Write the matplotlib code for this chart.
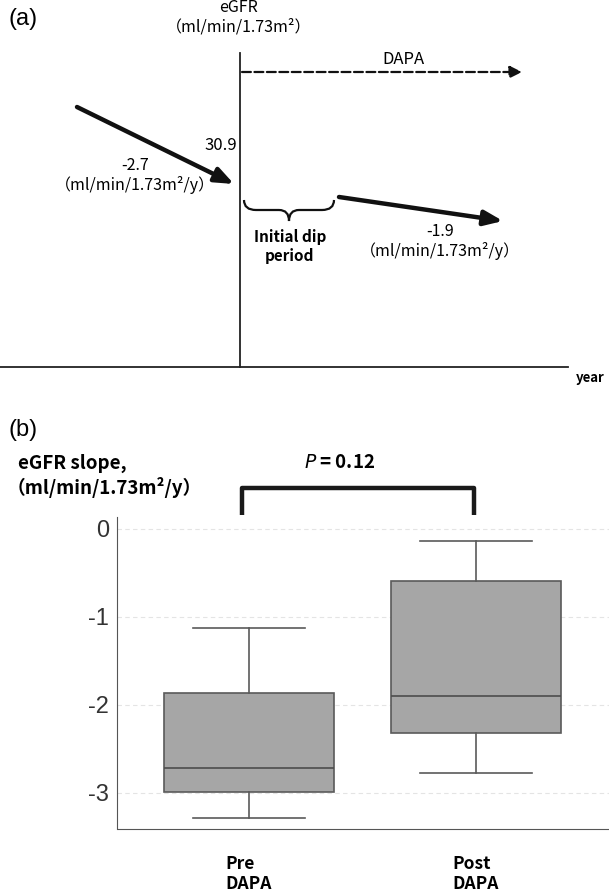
import matplotlib.pyplot as plt
from matplotlib.path import Path
from matplotlib.patches import PathPatch

plt.rcParams['font.family'] = ['Noto Sans CJK JP', 'DejaVu Sans']

# panel (a) schematic values
baseline_egfr = 30.9
slope_pre = -2.7
slope_post = -1.9
unit_rate = '（ml/min/1.73m²/y）'
unit_egfr = '（ml/min/1.73m²）'

# panel (b) box statistics (eGFR slope, ml/min/1.73m2/y)
groups = ['Pre\nDAPA', 'Post\nDAPA']
whislo = [-3.28, -2.77]
q1 = [-2.985, -2.32]
med = [-2.72, -1.895]
q3 = [-1.867, -0.586]
whishi = [-1.13, -0.137]
p_value = 0.12
yticks = [0, -1, -2, -3]

fig = plt.figure(figsize=(6.09, 8.89), dpi=100)

# overlay in pixel coordinates for the schematic and annotations
ov = fig.add_axes([0, 0, 1, 1])
ov.set_xlim(0, 609)
ov.set_ylim(889, 0)
ov.axis('off')

# ---- (a)
ov.text(8, 19, '(a)', fontsize=17, family='Liberation Sans', va='center')
ov.text(239, 7, 'eGFR', fontsize=11.5, ha='center', va='center')
ov.text(239, 27, unit_egfr, fontsize=11.5, ha='center', va='center')
ov.plot([240, 240], [53, 367], color='#222222', lw=1.3)
ov.plot([0, 568], [367, 367], color='#222222', lw=1.3)
ov.text(576, 378, 'year', fontsize=9.5, fontweight='bold', va='center')

ov.annotate('', xy=(522, 72), xytext=(242, 72),
            arrowprops=dict(arrowstyle='-|>,head_length=0.6,head_width=0.3', lw=1.6,
                            ls=(0, (4, 1.6)), color='#111111', mutation_scale=12,
                            shrinkA=0, shrinkB=0))
ov.text(403, 59, 'DAPA', fontsize=12, ha='center', va='center')

arrow_kw = dict(arrowstyle='-|>,head_length=0.8,head_width=0.32', lw=3.2,
                color='#111111', mutation_scale=14, shrinkA=0, shrinkB=0)
ov.annotate('', xy=(234, 184), xytext=(77, 107), arrowprops=arrow_kw)
ov.text(237, 146, f'{baseline_egfr}', fontsize=12, ha='right', va='center')
ov.text(135, 166, f'{slope_pre}', fontsize=11.5, ha='center', va='center')
ov.text(135, 185, unit_rate, fontsize=11.5, ha='center', va='center')

ov.annotate('', xy=(503, 221), xytext=(339, 197), arrowprops=arrow_kw)
ov.text(440, 232, f'{slope_post}', fontsize=11.5, ha='center', va='center')
ov.text(440, 251, unit_rate, fontsize=11.5, ha='center', va='center')

# brace for the initial dip period
bx0, bx1, btop, bmid, btip = 244, 334, 200, 210, 221
bc = (bx0 + bx1) / 2
verts = [(bx0, btop), (bx0, bmid), (bx0 + 12, bmid), (bc - 10, bmid),
         (bc, bmid), (bc, btip), (bc, bmid), (bc + 10, bmid),
         (bx1 - 12, bmid), (bx1, bmid), (bx1, btop)]
codes = [Path.MOVETO, Path.CURVE3, Path.CURVE3, Path.LINETO,
         Path.CURVE3, Path.CURVE3, Path.CURVE3, Path.CURVE3,
         Path.LINETO, Path.CURVE3, Path.CURVE3]
ov.add_patch(PathPatch(Path(verts, codes), fill=False, lw=1.6, color='#111111'))
ov.text(290, 237, 'Initial dip', fontsize=11, fontweight='bold', ha='center', va='center')
ov.text(290, 256, 'period', fontsize=11, fontweight='bold', ha='center', va='center')

# ---- (b)
ov.text(8, 430, '(b)', fontsize=17, family='Liberation Sans', va='center')
ov.text(18, 463, 'eGFR slope,', fontsize=13.5, fontweight='bold', va='center')
ov.text(7, 488, unit_rate, fontsize=13.5, fontweight='bold', va='center')
ov.text(340, 463, f'$P$ = {p_value}', fontsize=13.5, fontweight='bold',
        ha='center', va='center')
ov.plot([242, 242, 474, 474], [515, 488, 488, 515], color='#1a1a1a', lw=3.2,
        solid_joinstyle='round', solid_capstyle='butt')

ax = fig.add_axes([117.5 / 609, (889 - 829) / 889, (609 - 117.5) / 609, (829 - 517) / 889])
stats = [dict(label=g, whislo=a, q1=b, med=c, q3=d, whishi=e)
         for g, a, b, c, d, e in zip(groups, whislo, q1, med, q3, whishi)]
ax.bxp(stats, positions=[1, 2], widths=0.75, capwidths=0.49, patch_artist=True,
       showfliers=False,
       boxprops=dict(facecolor='#a6a6a6', edgecolor='#5a5a5a', lw=1.2),
       medianprops=dict(color='#4d4d4d', lw=1.2),
       whiskerprops=dict(color='#5a5a5a', lw=1.2),
       capprops=dict(color='#5a5a5a', lw=1.2))
ax.set_xlim(0.421, 2.586)
ax.set_ylim(-3.41, 0.136)
ax.set_yticks(yticks)
ax.set_yticklabels([str(t) for t in yticks], fontsize=17, color='#333333',
                   family='Liberation Sans')
ax.yaxis.grid(True, ls=(0, (4, 3)), color='#e4e4e4', lw=0.8)
ax.set_axisbelow(True)
ax.tick_params(axis='y', length=0, pad=6)
ax.tick_params(axis='x', length=0, pad=19)
ax.set_xticklabels(groups, fontsize=12.5, fontweight='bold', linespacing=1.15)
for lab in ax.get_xticklabels():
    lab.set_multialignment('left')
for s in ['top', 'right']:
    ax.spines[s].set_visible(False)
ax.spines['left'].set_color('#555555')
ax.spines['bottom'].set_color('#555555')

fig.savefig('out.png', dpi=100)
